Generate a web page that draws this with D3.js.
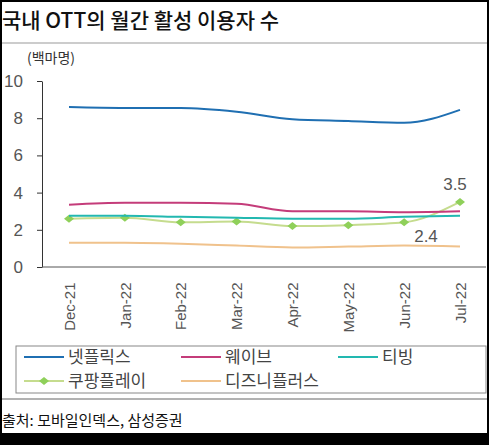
<!DOCTYPE html>
<html><head><meta charset="utf-8">
<script src="https://cdn.jsdelivr.net/npm/d3@7"></script>
<style>body{margin:0;background:#000;}svg{display:block;font-family:"Noto Sans CJK KR","Noto Sans",sans-serif;}</style>
</head><body><svg id="chart"></svg>
<script>
// data
const months = ["Dec-21","Jan-22","Feb-22","Mar-22","Apr-22","May-22","Jun-22","Jul-22"];
const netflix = [8.6, 8.55, 8.55, 8.35, 7.95, 7.85, 7.75, 8.45];
const wavve   = [3.35, 3.45, 3.45, 3.4, 3.0, 3.0, 2.95, 3.0];
const tving   = [2.75, 2.75, 2.7, 2.65, 2.6, 2.6, 2.7, 2.75];
const coupang = [2.6, 2.65, 2.4, 2.45, 2.2, 2.25, 2.4, 3.5];
const disney  = [1.3, 1.3, 1.25, 1.15, 1.05, 1.1, 1.15, 1.1];
const yTicks = [0, 2, 4, 6, 8, 10];

const series = [
  {name: "넷플릭스", values: netflix, color: "#1f6fb2"},
  {name: "웨이브", values: wavve, color: "#c43c7a"},
  {name: "티빙", values: tving, color: "#22b8b0"},
  {name: "쿠팡플레이", values: coupang, color: "#c5dc8e", marker: true},
  {name: "디즈니플러스", values: disney, color: "#f0c28c"}
];

const W = 489, H = 445;
const svg = d3.select("#chart").attr("width", W).attr("height", H);
const diamond = "M-5,0L0,-4L5,0L0,4Z";

svg.append("rect").attr("x", 2).attr("y", 2).attr("width", W - 4).attr("height", 431).attr("fill", "#fff");

svg.append("text").attr("x", 2).attr("y", 28).attr("font-size", 21).attr("font-weight", 500).attr("fill", "#111")
  .text("국내 OTT의 월간 활성 이용자 수");
svg.append("line").attr("x1", 2).attr("x2", W - 2).attr("y1", 43).attr("y2", 43)
  .attr("stroke", "#bbb").attr("stroke-width", 1.5);

svg.append("text").attr("x", 27).attr("y", 63).attr("font-size", 14).attr("fill", "#333").text("(백마명)");

// scales
const x = d3.scalePoint().domain(months).range([69, 460]);
const y = d3.scaleLinear().domain([0, 10]).range([267, 81]);

const yAxis = svg.append("g").attr("transform", "translate(42,0)")
  .call(d3.axisLeft(y).tickValues(yTicks).tickSize(5).tickSizeOuter(0).tickPadding(14));
yAxis.selectAll("text").attr("font-size", 17).attr("fill", "#555").attr("font-family", "Liberation Sans, sans-serif");
yAxis.selectAll("line,path").attr("stroke", "#333");

const xAxis = svg.append("g").attr("transform", "translate(0,267)")
  .call(d3.axisBottom(x).tickSize(0).tickPadding(8));
xAxis.select(".domain").attr("stroke", "#555").attr("d", "M42,0H486");
xAxis.selectAll("text").attr("font-size", 15).attr("fill", "#555")
  .attr("font-family", "Liberation Sans, sans-serif")
  .attr("transform", "rotate(-90)").attr("text-anchor", "end").attr("dx", "-0.5em").attr("dy", "0.35em")
  .attr("x", -8).attr("y", 0);

const line = d3.line().x((d, i) => x(months[i])).y(d => y(d)).curve(d3.curveMonotoneX);
series.slice().reverse().forEach(s => {
  svg.append("path").datum(s.values).attr("d", line).attr("fill", "none")
    .attr("stroke", s.color).attr("stroke-width", 2);
  if (s.marker) {
    svg.selectAll(null).data(s.values).enter().append("path")
      .attr("d", diamond)
      .attr("transform", (d, i) => `translate(${x(months[i])},${y(d)})`)
      .attr("fill", "#8fd05a");
  }
});

// annotations
svg.append("text").attr("x", 455).attr("y", y(3.5) - 12).attr("text-anchor", "middle")
  .attr("font-size", 17).attr("fill", "#555").attr("font-family", "Liberation Sans, sans-serif").text("3.5");
svg.append("text").attr("x", 426).attr("y", y(1.15) - 4).attr("text-anchor", "middle")
  .attr("font-size", 17).attr("fill", "#555").attr("font-family", "Liberation Sans, sans-serif").text("2.4");

// legend
svg.append("rect").attr("x", 16).attr("y", 346).attr("width", 470).attr("height", 47)
  .attr("fill", "none").attr("stroke", "#888");
const pos = [[24, 357], [181, 357], [338, 357], [24, 381], [181, 381]];
series.forEach((s, i) => {
  const [lx, ly] = pos[i];
  svg.append("line").attr("x1", lx).attr("x2", lx + 40).attr("y1", ly).attr("y2", ly)
    .attr("stroke", s.color).attr("stroke-width", 2);
  if (s.marker) svg.append("path").attr("d", diamond)
    .attr("transform", `translate(${lx + 20},${ly})`).attr("fill", "#8fd05a");
  svg.append("text").attr("x", lx + 44).attr("y", ly + 6).attr("font-size", 17).attr("fill", "#444").text(s.name);
});

svg.append("line").attr("x1", 2).attr("x2", W - 2).attr("y1", 399).attr("y2", 399)
  .attr("stroke", "#999").attr("stroke-width", 1.5);
svg.append("text").attr("x", 2).attr("y", 426).attr("font-size", 15).attr("fill", "#111")
  .text("출처: 모바일인덱스, 삼성증권");
</script></body></html>
